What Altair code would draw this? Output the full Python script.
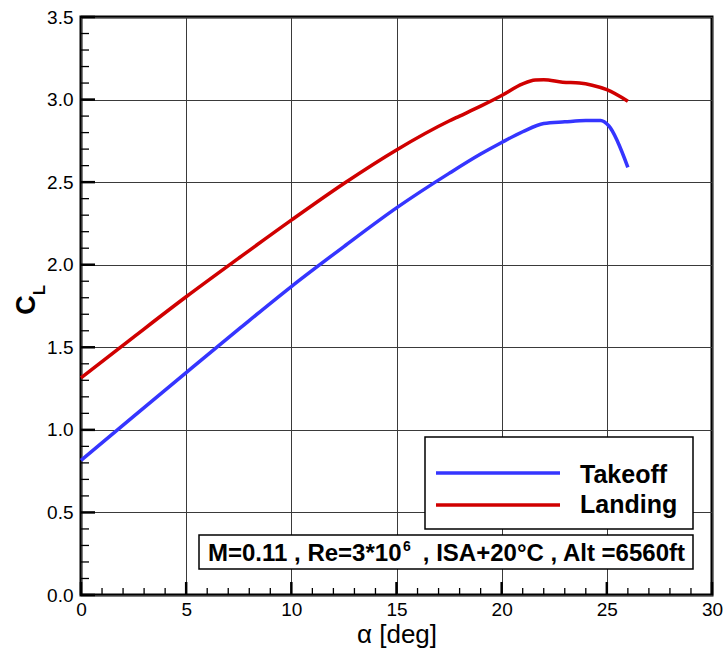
import altair as alt
import pandas as pd

# ---- data ----
takeoff_alpha = [0, 2.5, 5, 7.5, 10, 12.5, 15, 17.5, 19, 20, 21, 22, 23, 24, 24.7, 25.1, 26]
takeoff_cl = [0.815, 1.082, 1.347, 1.61, 1.868, 2.11, 2.344, 2.553, 2.67, 2.74, 2.805, 2.855, 2.865, 2.873, 2.873, 2.84, 2.59]

landing_alpha = [0, 2.5, 5, 7.5, 10, 12.5, 15, 17.5, 18, 19, 20, 21, 21.6, 22, 22.9, 23.7, 24.3, 25, 26]
landing_cl = [1.315, 1.562, 1.806, 2.04, 2.27, 2.492, 2.695, 2.87, 2.90, 2.96, 3.025, 3.095, 3.118, 3.12, 3.105, 3.10, 3.087, 3.06, 2.99]

series_names = ["Takeoff", "Landing"]
series_colors = ["#3535ff", "#d00000"]

x_major = [0, 5, 10, 15, 20, 25, 30]
x_minor = [v for v in range(0, 31) if v % 5 != 0]
y_major = [0.0, 0.5, 1.0, 1.5, 2.0, 2.5, 3.0, 3.5]
y_minor = [round(i * 0.1, 1) for i in range(0, 36) if i % 5 != 0]

W, H = 631, 578
FONT = "Liberation Sans"

df = pd.concat([
    pd.DataFrame({"alpha": takeoff_alpha, "CL": takeoff_cl, "case": "Takeoff"}),
    pd.DataFrame({"alpha": landing_alpha, "CL": landing_cl, "case": "Landing"}),
])

xs = alt.Scale(domain=[0, 30], nice=False, zero=False)
ys = alt.Scale(domain=[0, 3.5], nice=False, zero=False)

base_axes = alt.Chart(pd.DataFrame({"alpha": [0], "CL": [0]})).mark_point(opacity=0).encode(
    x=alt.X("alpha:Q", scale=xs,
            axis=alt.Axis(values=x_major, format="d", grid=True, gridColor="#3a3a3a", gridWidth=1,
                          ticks=False, domain=False, labelFont=FONT, labelFontSize=19,
                          labelColor="black", labelPadding=5, labelFlush=False,
                          title="α [deg]", titleFont=FONT, titleFontSize=26,
                          titleFontWeight="normal", titleColor="black", titlePadding=2)),
    y=alt.Y("CL:Q", scale=ys,
            axis=alt.Axis(values=y_major, format=".1f", grid=True, gridColor="#3a3a3a", gridWidth=1,
                          ticks=False, domain=False, labelFont=FONT, labelFontSize=19,
                          labelColor="black", labelPadding=8, labelFlush=False, title=None)),
)

lines = alt.Chart(df).mark_line(strokeWidth=3.5, interpolate="monotone").encode(
    x=alt.X("alpha:Q", scale=xs),
    y=alt.Y("CL:Q", scale=ys),
    color=alt.Color("case:N", scale=alt.Scale(domain=series_names, range=series_colors), legend=None),
    detail="case:N",
)

# inward ticks
xmaj = alt.Chart(pd.DataFrame({"v": x_major})).mark_rule(color="black", strokeWidth=2.5).encode(
    x=alt.X("v:Q", scale=xs), y=alt.value(H), y2=alt.value(H - 13))
xmin = alt.Chart(pd.DataFrame({"v": x_minor})).mark_rule(color="black", strokeWidth=1.3).encode(
    x=alt.X("v:Q", scale=xs), y=alt.value(H), y2=alt.value(H - 7))
ymaj = alt.Chart(pd.DataFrame({"v": y_major})).mark_rule(color="black", strokeWidth=2.5).encode(
    y=alt.Y("v:Q", scale=ys), x=alt.value(0), x2=alt.value(14))
ymin = alt.Chart(pd.DataFrame({"v": y_minor})).mark_rule(color="black", strokeWidth=1.3).encode(
    y=alt.Y("v:Q", scale=ys), x=alt.value(0), x2=alt.value(8))

# legend box
leg_box = alt.Chart(pd.DataFrame({"a": [0]})).mark_rect(fill="white", stroke="black", strokeWidth=1.5).encode(
    x=alt.value(344), x2=alt.value(612), y=alt.value(420), y2=alt.value(512))
leg_df = pd.DataFrame({"case": series_names, "ly": [456, 488], "ty": [466, 496]})
leg_lines = alt.Chart(leg_df).mark_rule(strokeWidth=3.5).encode(
    x=alt.value(355), x2=alt.value(479), y=alt.Y("ly:Q", scale=None),
    color=alt.Color("case:N", scale=alt.Scale(domain=series_names, range=series_colors), legend=None))
leg_text = alt.Chart(leg_df).mark_text(align="left", baseline="alphabetic", font=FONT, fontSize=25,
                                        fontWeight="bold", color="black").encode(
    x=alt.value(499), y=alt.Y("ty:Q", scale=None), text="case:N")

# condition annotation box
ann_box = alt.Chart(pd.DataFrame({"a": [0]})).mark_rect(fill="white", stroke="black", strokeWidth=1.5).encode(
    x=alt.value(118), x2=alt.value(612), y=alt.value(518), y2=alt.value(552))
ann1 = alt.Chart(pd.DataFrame({"t": ["M=0.11 , Re=3*10"]})).mark_text(
    align="left", baseline="alphabetic", font=FONT, fontSize=24, fontWeight="bold", color="black").encode(
    x=alt.value(127), y=alt.value(544), text="t:N")
ann_sup = alt.Chart(pd.DataFrame({"t": ["6"]})).mark_text(
    align="left", baseline="alphabetic", font=FONT, fontSize=14, fontWeight="bold", color="black").encode(
    x=alt.value(322), y=alt.value(534), text="t:N")
ann2 = alt.Chart(pd.DataFrame({"t": [", ISA+20°C , Alt =6560ft"]})).mark_text(
    align="right", baseline="alphabetic", font=FONT, fontSize=24, fontWeight="bold", color="black").encode(
    x=alt.value(604), y=alt.value(544), text="t:N")

# y axis title C_L
yt_c = alt.Chart(pd.DataFrame({"t": ["C"]})).mark_text(
    align="center", baseline="middle", angle=270, font=FONT, fontSize=27, fontWeight="bold", color="black").encode(
    x=alt.value(-54), y=alt.value(288), text="t:N")
yt_l = alt.Chart(pd.DataFrame({"t": ["L"]})).mark_text(
    align="center", baseline="middle", angle=270, font=FONT, fontSize=17, fontWeight="bold", color="black").encode(
    x=alt.value(-41), y=alt.value(273), text="t:N")

chart = alt.layer(
    base_axes, lines, xmaj, xmin, ymaj, ymin,
    leg_box, leg_lines, leg_text, ann_box, ann1, ann_sup, ann2, yt_c, yt_l,
).properties(
    width=W, height=H,
    autosize=alt.AutoSizeParams(type="none"),
    padding={"left": 81, "top": 17, "right": 14, "bottom": 57},
    background="white",
).configure_view(stroke="black", strokeWidth=3)

chart.save("out.html", embed_options={"renderer": "svg", "actions": False})
